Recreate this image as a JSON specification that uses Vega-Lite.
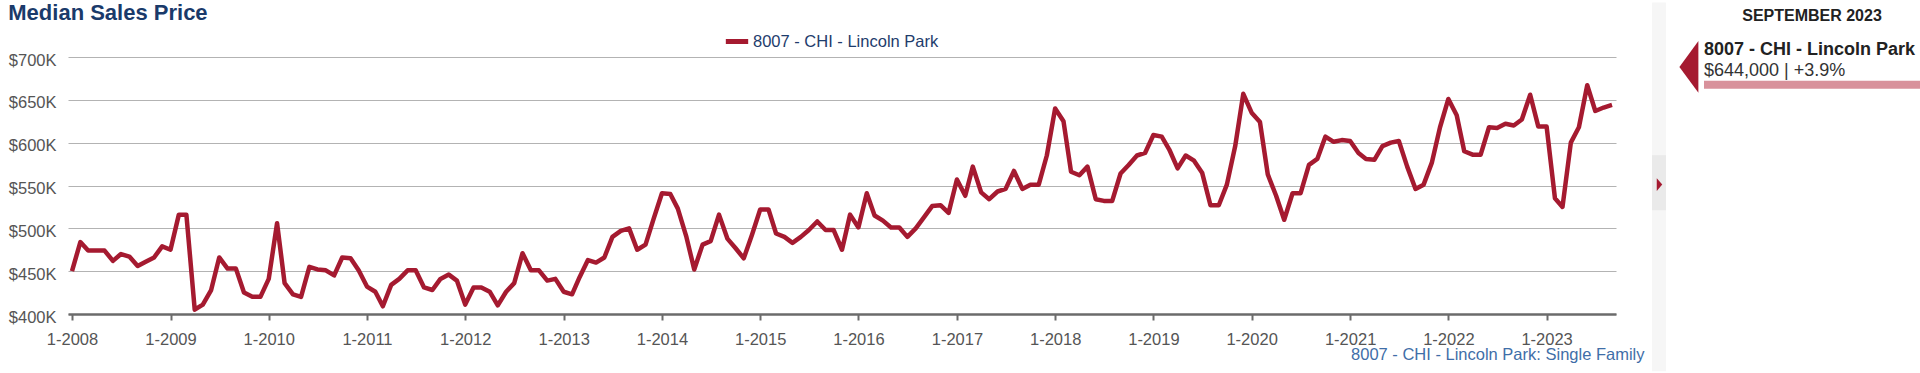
{
  "$schema": "https://vega.github.io/schema/vega-lite/v6.json",
  "padding": {"left": 8, "top": 2, "right": 0, "bottom": 0},
  "background": "white",
  "config": {"font": "Liberation Sans", "view": {"stroke": null}},
  "datasets": {
    "sales": [
      {"date": "2008-01-01", "price": 450000}, {"date": "2008-02-01", "price": 484000}, {"date": "2008-03-01", "price": 474000}, {"date": "2008-04-01", "price": 474000},
      {"date": "2008-05-01", "price": 474000}, {"date": "2008-06-01", "price": 462000}, {"date": "2008-07-01", "price": 470000}, {"date": "2008-08-01", "price": 467000},
      {"date": "2008-09-01", "price": 456000}, {"date": "2008-10-01", "price": 461000}, {"date": "2008-11-01", "price": 466000}, {"date": "2008-12-01", "price": 479000},
      {"date": "2009-01-01", "price": 475000}, {"date": "2009-02-01", "price": 516000}, {"date": "2009-03-01", "price": 516000}, {"date": "2009-04-01", "price": 405000},
      {"date": "2009-05-01", "price": 411000}, {"date": "2009-06-01", "price": 428000}, {"date": "2009-07-01", "price": 466000}, {"date": "2009-08-01", "price": 453000},
      {"date": "2009-09-01", "price": 453000}, {"date": "2009-10-01", "price": 425000}, {"date": "2009-11-01", "price": 420000}, {"date": "2009-12-01", "price": 420000},
      {"date": "2010-01-01", "price": 441000}, {"date": "2010-02-01", "price": 506000}, {"date": "2010-03-01", "price": 436000}, {"date": "2010-04-01", "price": 423000},
      {"date": "2010-05-01", "price": 420000}, {"date": "2010-06-01", "price": 455000}, {"date": "2010-07-01", "price": 452000}, {"date": "2010-08-01", "price": 451000},
      {"date": "2010-09-01", "price": 445000}, {"date": "2010-10-01", "price": 466000}, {"date": "2010-11-01", "price": 465000}, {"date": "2010-12-01", "price": 451000},
      {"date": "2011-01-01", "price": 432000}, {"date": "2011-02-01", "price": 426000}, {"date": "2011-03-01", "price": 409000}, {"date": "2011-04-01", "price": 434000},
      {"date": "2011-05-01", "price": 441000}, {"date": "2011-06-01", "price": 451000}, {"date": "2011-07-01", "price": 451000}, {"date": "2011-08-01", "price": 431000},
      {"date": "2011-09-01", "price": 428000}, {"date": "2011-10-01", "price": 441000}, {"date": "2011-11-01", "price": 446000}, {"date": "2011-12-01", "price": 439000},
      {"date": "2012-01-01", "price": 411000}, {"date": "2012-02-01", "price": 431000}, {"date": "2012-03-01", "price": 431000}, {"date": "2012-04-01", "price": 426000},
      {"date": "2012-05-01", "price": 410000}, {"date": "2012-06-01", "price": 426000}, {"date": "2012-07-01", "price": 436000}, {"date": "2012-08-01", "price": 471000},
      {"date": "2012-09-01", "price": 451000}, {"date": "2012-10-01", "price": 451000}, {"date": "2012-11-01", "price": 439000}, {"date": "2012-12-01", "price": 441000},
      {"date": "2013-01-01", "price": 426000}, {"date": "2013-02-01", "price": 423000}, {"date": "2013-03-01", "price": 443000}, {"date": "2013-04-01", "price": 463000},
      {"date": "2013-05-01", "price": 460000}, {"date": "2013-06-01", "price": 466000}, {"date": "2013-07-01", "price": 490000}, {"date": "2013-08-01", "price": 497000},
      {"date": "2013-09-01", "price": 500000}, {"date": "2013-10-01", "price": 475000}, {"date": "2013-11-01", "price": 481000}, {"date": "2013-12-01", "price": 511000},
      {"date": "2014-01-01", "price": 541000}, {"date": "2014-02-01", "price": 540000}, {"date": "2014-03-01", "price": 523000}, {"date": "2014-04-01", "price": 491000},
      {"date": "2014-05-01", "price": 452000}, {"date": "2014-06-01", "price": 481000}, {"date": "2014-07-01", "price": 485000}, {"date": "2014-08-01", "price": 516000},
      {"date": "2014-09-01", "price": 488000}, {"date": "2014-10-01", "price": 477000}, {"date": "2014-11-01", "price": 465000}, {"date": "2014-12-01", "price": 492000},
      {"date": "2015-01-01", "price": 522000}, {"date": "2015-02-01", "price": 522000}, {"date": "2015-03-01", "price": 494000}, {"date": "2015-04-01", "price": 490000},
      {"date": "2015-05-01", "price": 483000}, {"date": "2015-06-01", "price": 490000}, {"date": "2015-07-01", "price": 498000}, {"date": "2015-08-01", "price": 508000},
      {"date": "2015-09-01", "price": 498000}, {"date": "2015-10-01", "price": 498000}, {"date": "2015-11-01", "price": 475000}, {"date": "2015-12-01", "price": 516000},
      {"date": "2016-01-01", "price": 501000}, {"date": "2016-02-01", "price": 541000}, {"date": "2016-03-01", "price": 515000}, {"date": "2016-04-01", "price": 509000},
      {"date": "2016-05-01", "price": 501000}, {"date": "2016-06-01", "price": 501000}, {"date": "2016-07-01", "price": 490000}, {"date": "2016-08-01", "price": 500000},
      {"date": "2016-09-01", "price": 513000}, {"date": "2016-10-01", "price": 526000}, {"date": "2016-11-01", "price": 527000}, {"date": "2016-12-01", "price": 518000},
      {"date": "2017-01-01", "price": 557000}, {"date": "2017-02-01", "price": 538000}, {"date": "2017-03-01", "price": 572000}, {"date": "2017-04-01", "price": 542000},
      {"date": "2017-05-01", "price": 534000}, {"date": "2017-06-01", "price": 543000}, {"date": "2017-07-01", "price": 546000}, {"date": "2017-08-01", "price": 567000},
      {"date": "2017-09-01", "price": 546000}, {"date": "2017-10-01", "price": 551000}, {"date": "2017-11-01", "price": 551000}, {"date": "2017-12-01", "price": 585000},
      {"date": "2018-01-01", "price": 640000}, {"date": "2018-02-01", "price": 625000}, {"date": "2018-03-01", "price": 566000}, {"date": "2018-04-01", "price": 562000},
      {"date": "2018-05-01", "price": 572000}, {"date": "2018-06-01", "price": 534000}, {"date": "2018-07-01", "price": 532000}, {"date": "2018-08-01", "price": 532000},
      {"date": "2018-09-01", "price": 564000}, {"date": "2018-10-01", "price": 574000}, {"date": "2018-11-01", "price": 585000}, {"date": "2018-12-01", "price": 588000},
      {"date": "2019-01-01", "price": 609000}, {"date": "2019-02-01", "price": 607000}, {"date": "2019-03-01", "price": 592000}, {"date": "2019-04-01", "price": 570000},
      {"date": "2019-05-01", "price": 585000}, {"date": "2019-06-01", "price": 579000}, {"date": "2019-07-01", "price": 565000}, {"date": "2019-08-01", "price": 527000},
      {"date": "2019-09-01", "price": 527000}, {"date": "2019-10-01", "price": 551000}, {"date": "2019-11-01", "price": 596000}, {"date": "2019-12-01", "price": 657000},
      {"date": "2020-01-01", "price": 635000}, {"date": "2020-02-01", "price": 624000}, {"date": "2020-03-01", "price": 563000}, {"date": "2020-04-01", "price": 538000},
      {"date": "2020-05-01", "price": 510000}, {"date": "2020-06-01", "price": 541000}, {"date": "2020-07-01", "price": 541000}, {"date": "2020-08-01", "price": 574000},
      {"date": "2020-09-01", "price": 581000}, {"date": "2020-10-01", "price": 607000}, {"date": "2020-11-01", "price": 601000}, {"date": "2020-12-01", "price": 603000},
      {"date": "2021-01-01", "price": 602000}, {"date": "2021-02-01", "price": 588000}, {"date": "2021-03-01", "price": 581000}, {"date": "2021-04-01", "price": 580000},
      {"date": "2021-05-01", "price": 596000}, {"date": "2021-06-01", "price": 600000}, {"date": "2021-07-01", "price": 602000}, {"date": "2021-08-01", "price": 572000},
      {"date": "2021-09-01", "price": 546000}, {"date": "2021-10-01", "price": 551000}, {"date": "2021-11-01", "price": 577000}, {"date": "2021-12-01", "price": 618000},
      {"date": "2022-01-01", "price": 651000}, {"date": "2022-02-01", "price": 632000}, {"date": "2022-03-01", "price": 590000}, {"date": "2022-04-01", "price": 586000},
      {"date": "2022-05-01", "price": 586000}, {"date": "2022-06-01", "price": 618000}, {"date": "2022-07-01", "price": 617000}, {"date": "2022-08-01", "price": 622000},
      {"date": "2022-09-01", "price": 620000}, {"date": "2022-10-01", "price": 627000}, {"date": "2022-11-01", "price": 656000}, {"date": "2022-12-01", "price": 619000},
      {"date": "2023-01-01", "price": 619000}, {"date": "2023-02-01", "price": 535000}, {"date": "2023-03-01", "price": 525000}, {"date": "2023-04-01", "price": 600000},
      {"date": "2023-05-01", "price": 618000}, {"date": "2023-06-01", "price": 667000}, {"date": "2023-07-01", "price": 637000}, {"date": "2023-08-01", "price": 641000},
      {"date": "2023-09-01", "price": 644000}
    ],
    "latest": [
      {"month": "SEPTEMBER 2023", "area": "8007 - CHI - Lincoln Park", "base": 0, "price": 644000, "change": 3.9}
    ]
  },
  "spacing": 8,
  "hconcat": [
    {
      "data": {"name": "sales"},
      "width": 1548,
      "height": 257,
      "title": {"text": "Median Sales Price", "anchor": "start", "fontSize": 22, "fontWeight": "bold", "color": "#1a3a6a", "offset": 27},
      "mark": {"type": "line", "strokeWidth": 4.5, "strokeJoin": "round"},
      "encoding": {
        "x": {
          "field": "date", "type": "temporal",
          "scale": {"type": "utc", "padding": 4, "nice": false},
          "axis": {
            "title": "8007 - CHI - Lincoln Park: Single Family",
            "titleFontSize": 16.5, "titleFontWeight": "normal", "titleColor": "#3f6ea8",
            "titleAnchor": "end", "titleAlign": "right", "titleX": 1576, "titleY": 40, "titleBaseline": "middle",
            "tickCount": {"interval": "year", "step": 1},
            "labelExpr": "'1-' + utcFormat(datum.value, '%Y')",
            "labelFontSize": 16.5, "labelColor": "#555555", "labelPadding": 11, "labelFlush": false, "labelOverlap": false,
            "tickSize": 6, "tickWidth": 2, "tickColor": "#6b6b6b",
            "domainColor": "#6b6b6b", "domainWidth": 2.5, "grid": false
          }
        },
        "y": {
          "field": "price", "type": "quantitative",
          "scale": {"domain": [400000, 700000], "nice": false, "zero": false},
          "axis": {
            "title": null,
            "values": [400000, 450000, 500000, 550000, 600000, 650000, 700000],
            "labelExpr": "'$' + format(datum.value / 1000, 'd') + 'K'",
            "domain": false, "ticks": false, "labelPadding": 12, "labelOffset": 3,
            "labelFontSize": 16.5, "labelColor": "#555555",
            "gridColor": "#b3b3b3", "gridWidth": 1.2
          }
        },
        "color": {
          "datum": "8007 - CHI - Lincoln Park", "type": "nominal",
          "scale": {"range": ["#a51a30"]},
          "legend": {
            "orient": "none", "legendX": 655, "legendY": -29.5, "title": null, "padding": 0,
            "symbolType": "stroke", "symbolStrokeWidth": 5, "symbolSize": 500,
            "labelFontSize": 16.5, "labelColor": "#1e3c6c", "labelOffset": 2, "labelLimit": 400
          }
        }
      }
    },
    {
      "spacing": 13,
      "hconcat": [
        {
          "data": {"name": "latest"},
          "width": 14,
          "height": 257,
          "view": {"stroke": null},
          "layer": [
            {"mark": {"type": "point", "shape": "M-0.0374,-1L0.0374,-1L0.0374,0.993L-0.0374,0.993Z", "size": 136900, "filled": true, "color": "#f6f6f6", "opacity": 1, "yOffset": 2}, "encoding": {}},
            {"mark": {"type": "point", "shape": "M-0.2545,-1L0.2545,-1L0.2545,1L-0.2545,1Z", "size": 3025, "filled": true, "color": "#eaeaea", "opacity": 1, "yOffset": -2.8}, "encoding": {}},
            {"mark": {"type": "point", "shape": "M-0.43,-1L0.43,0L-0.43,1Z", "size": 161, "filled": true, "color": "#a51a30", "opacity": 1, "xOffset": 0.5, "yOffset": -0.9}, "encoding": {}}
          ]
        },
        {
          "data": {"name": "latest"},
          "width": 216,
          "height": 257,
          "view": {"stroke": null},
          "transform": [{"calculate": "format(datum.price, '$,') + ' | +' + format(datum.change, '.1f') + '%'", "as": "label"}],
          "layer": [
            {
              "mark": {"type": "rule", "strokeWidth": 8, "color": "#d8919b", "yOffset": -100.8},
              "encoding": {
                "x": {"field": "base", "type": "quantitative", "scale": {"domain": [0, 644000], "nice": false}, "axis": null},
                "x2": {"field": "price"}
              }
            },
            {
              "mark": {"type": "point", "shape": "M-0.368,0L0.368,-1L0.368,1Z", "size": 2663, "filled": true, "color": "#a51a30", "opacity": 1, "xOffset": -15.1, "yOffset": -118.6},
              "encoding": {"x": {"field": "base", "type": "quantitative"}}
            },
            {
              "mark": {"type": "text", "align": "center", "baseline": "middle", "fontSize": 16, "fontWeight": "bold", "color": "#222222", "dy": -169.3},
              "encoding": {"text": {"field": "month"}}
            },
            {
              "mark": {"type": "text", "align": "left", "baseline": "middle", "fontSize": 18, "fontWeight": "bold", "color": "#222222", "dy": -135.3},
              "encoding": {"x": {"field": "base", "type": "quantitative"}, "text": {"field": "area"}}
            },
            {
              "mark": {"type": "text", "align": "left", "baseline": "middle", "fontSize": 18, "color": "#333333", "dy": -114.8},
              "encoding": {"x": {"field": "base", "type": "quantitative"}, "text": {"field": "label"}}
            }
          ]
        }
      ]
    }
  ]
}
